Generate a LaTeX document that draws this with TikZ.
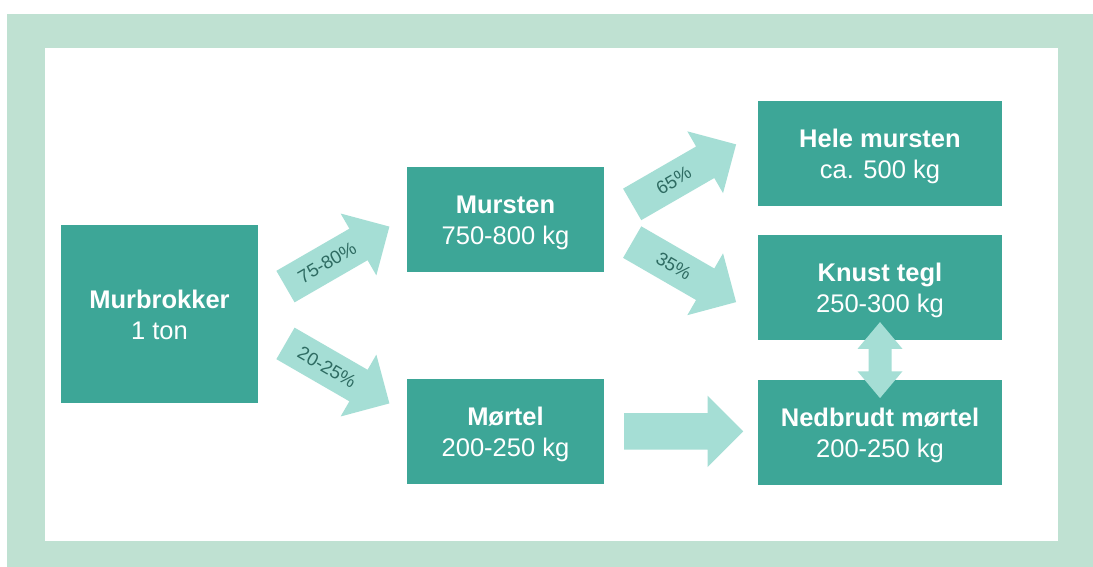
\documentclass[tikz,border=0pt]{standalone}
\usepackage{fontspec}
\setmainfont{Liberation Sans}
\usetikzlibrary{shapes.arrows,positioning,calc}

\definecolor{framegreen}{HTML}{BFE1D2}
\definecolor{boxteal}{HTML}{3DA697}
\definecolor{arrowfill}{HTML}{A5DED5}
\definecolor{pcttext}{HTML}{2E6B62}

% two lines of a box, with fixed line room above and below
\newcommand{\boxlines}[2]{\rule{0pt}{25pt}\textbf{#1}\\#2\rule[-6pt]{0pt}{6pt}}

\begin{document}
\begin{tikzpicture}[x=1pt, y=-1pt,
  box/.style={fill=boxteal, text=white, align=center, inner sep=0pt,
    font=\fontsize{25.5}{31}\selectfont},
  fat/.style={single arrow, fill=arrowfill, inner xsep=0pt, inner ysep=18pt,
    minimum height=120pt, anchor=west,
    single arrow head extend=17.5pt, single arrow head indent=0pt},
  dbl/.style={double arrow, fill=arrowfill, inner xsep=0pt, inner ysep=11.3pt,
    minimum height=76pt,
    double arrow head extend=11pt, double arrow tip angle=80},
  pct/.style={text=pcttext, inner sep=0pt, font=\fontsize{18.5}{20}\selectfont},
]
\useasboundingbox (0,0) rectangle (1093,567);

%% Frame
\fill[framegreen] (7,14) rectangle (1093,567);
\fill[white] (45,48) rectangle (1058,541);

%% Input
\node[box, minimum width=197pt, minimum height=178pt] (mb) at (159.5,314)
  {\boxlines{Murbrokker}{1 ton}};

%% Middle column
\node[box, minimum width=197pt, minimum height=105pt] (ms) at (505.5,219.5)
  {\boxlines{Mursten}{750-800 kg}};
\node[box, minimum width=197pt, minimum height=105pt, below=107pt of ms] (mt)
  {\boxlines{Mørtel}{200-250 kg}};

%% Right column
\node[box, minimum width=244pt, minimum height=105pt] (hele) at (880,153.5)
  {\boxlines{Hele mursten}{ca. 500 kg}};
\node[box, minimum width=244pt, minimum height=105pt, below=29pt of hele] (knust)
  {\boxlines{Knust tegl}{250-300 kg}};
\node[box, minimum width=244pt, minimum height=105pt, below=39pt of knust] (ned)
  {\boxlines{Nedbrudt mørtel}{200-250 kg}};

%% Fat arrows (placed by their tails)
\node[fat, rotate=30] (a1) at (285.3,286.7) {};
\node[fat, rotate=-30] (a2) at (285.3,343.3) {};
\node[fat, rotate=30] (a3) at (632,204.5) {};
\node[fat, rotate=-30] (a4) at (632,242) {};
\node[fat, minimum height=119pt] (a5) at (624,431.3) {};
\node[dbl, rotate=90] (a6) at ($(knust.south)!0.5!(ned.north)$) {};

%% Shares
\node[pct, rotate=30] at ($(a1.west)!0.4!(a1.east)$) {75-80\%};
\node[pct, rotate=-30] at ($(a2.west)!0.4!(a2.east)$) {20-25\%};
\node[pct, rotate=30] at ($(a3.west)!0.4!(a3.east)$) {65\%};
\node[pct, rotate=-30] at ($(a4.west)!0.4!(a4.east)$) {35\%};

\end{tikzpicture}
\end{document}
